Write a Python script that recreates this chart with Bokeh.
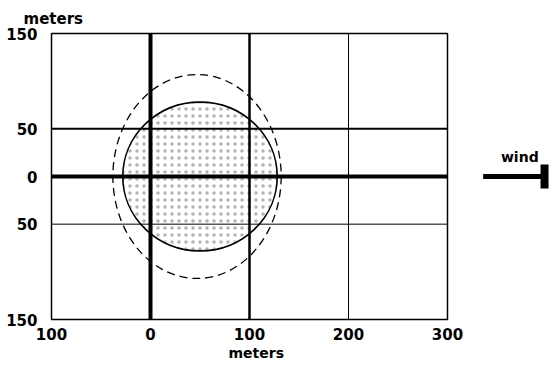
from bokeh.plotting import figure
from bokeh.layouts import row
from bokeh.models import Span, Title, Arrow, TeeHead, FixedTicker
from bokeh.core.properties import value
from bokeh.embed import file_html
from bokeh.resources import INLINE

# ---- data ----
x_ticks = [-100, 0, 100, 200, 300]
x_tick_labels = ["100", "0", "100", "200", "300"]
y_ticks = [-150, -50, 0, 50, 150]
y_tick_labels = ["150", "50", "0", "50", "150"]

grid_x = [0, 100, 200]
grid_x_widths = [4, 2.5, 1]
grid_y = [0, 50, -50]
grid_y_widths = [4, 2, 1]

inner_x, inner_y, inner_r = 50, 0, 78          # solid, stippled zone
outer_x, outer_y = 47, 0                       # dashed zone
outer_a, outer_b = 85, 107

wind_x0, wind_x1, wind_y = 336, 398, 0
wind_label_x, wind_label_y = 373, 20

FONT = "DejaVu Sans"
TOP, BOTTOM, H = 33, 38, 360

p = figure(width=467, height=H, x_range=(-100, 300), y_range=(-150, 150),
           output_backend="svg", toolbar_location=None,
           min_border_left=51, min_border_right=20, min_border_top=TOP,
           min_border_bottom=BOTTOM)
p.xgrid.visible = False
p.ygrid.visible = False
p.outline_line_color = "black"
p.outline_line_width = 1.5

for ax, ticks, labels in ((p.xaxis[0], x_ticks, x_tick_labels),
                          (p.yaxis[0], y_ticks, y_tick_labels)):
    ax.ticker = FixedTicker(ticks=ticks)
    ax.major_label_overrides = {t: l for t, l in zip(ticks, labels)}
    ax.axis_line_color = None
    ax.major_tick_line_color = None
    ax.minor_tick_line_color = None
    ax.major_label_text_font = FONT
    ax.major_label_text_font_style = "bold"
    ax.major_label_text_font_size = "15px"
    ax.major_label_text_color = "black"
p.xaxis.major_label_standoff = 2
p.yaxis.major_label_standoff = 8

# axis titles
p.add_layout(Title(text="meters", align="left", offset=-28, standoff=12,
                   text_font=FONT, text_font_style="bold", text_font_size="15px",
                   text_color="black"),
             "above")
p.add_layout(Title(text="meters", align="left", offset=177, standoff=0,
                   text_font=FONT, text_font_style="bold", text_font_size="14px",
                   text_color="black"),
             "below")

# zones
p.ellipse(x=[outer_x], y=[outer_y], width=[2 * outer_a], height=[2 * outer_b],
          fill_alpha=0, line_color="black", line_width=1.3, line_dash="8 5")
p.ellipse(x=[inner_x], y=[inner_y], width=[2 * inner_r], height=[2 * inner_r],
          fill_alpha=0, line_color="black", line_width=1.6,
          hatch_pattern="dot", hatch_scale=7, hatch_color="black",
          hatch_alpha=0.3, hatch_weight=0.3)

# grid lines
for gx, w in zip(grid_x, grid_x_widths):
    p.add_layout(Span(location=gx, dimension="height", line_color="black", line_width=w))
for gy, w in zip(grid_y, grid_y_widths):
    p.add_layout(Span(location=gy, dimension="width", line_color="black", line_width=w))

# wind arrow panel, continuing the same metre scale to the right
q = figure(width=82, height=H, x_range=(320.2, 403), y_range=(-150, 150),
           output_backend="svg", toolbar_location=None,
           x_axis_location=None, y_axis_location=None,
           min_border_left=0, min_border_right=0, min_border_top=TOP,
           min_border_bottom=BOTTOM)
q.xgrid.visible = False
q.ygrid.visible = False
q.outline_line_color = None
q.add_layout(Arrow(x_start=wind_x0, y_start=wind_y, x_end=wind_x1, y_end=wind_y,
                   line_width=5, line_color="black",
                   end=TeeHead(size=24, line_width=8, line_color="black")))
q.text(x=[wind_label_x], y=[wind_label_y], text=["wind"],
       text_font=value(FONT), text_font_style="bold", text_font_size="14px",
       text_align="center", text_baseline="middle", text_color="black")

layout = row(p, q, spacing=0)
open("out.html", "w").write(file_html(layout, INLINE))
